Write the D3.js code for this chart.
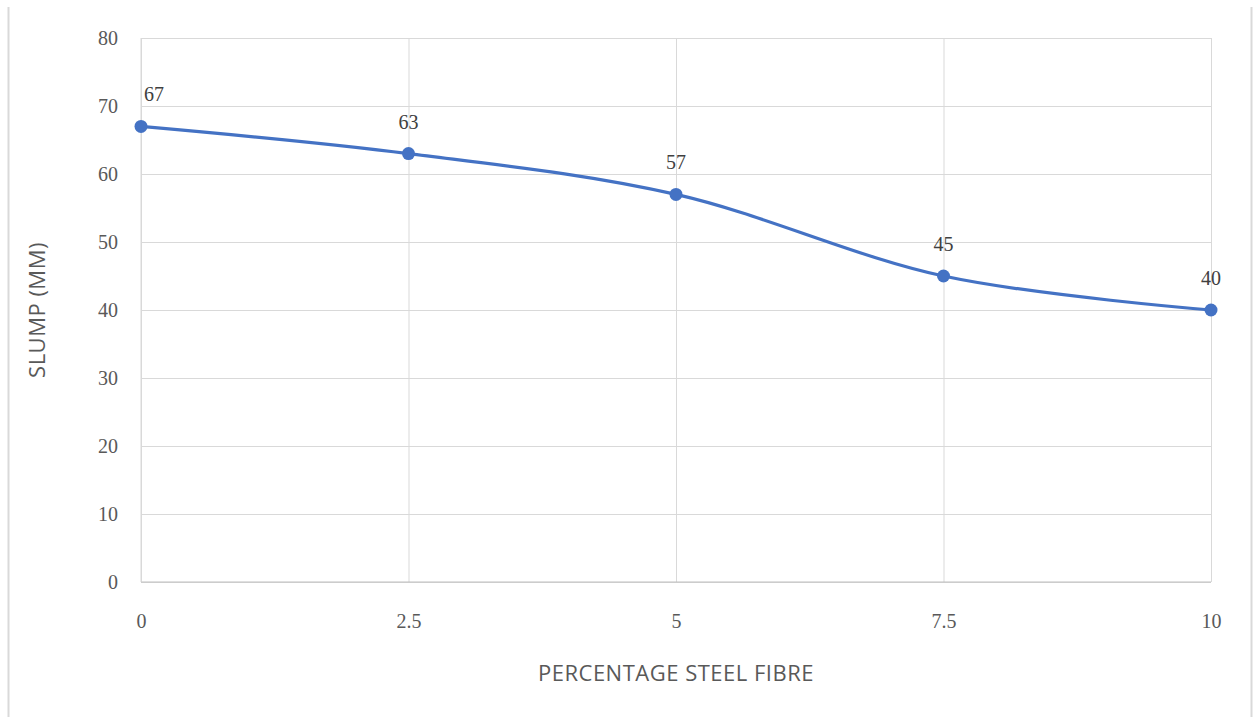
<!DOCTYPE html>
<html>
<head>
<meta charset="utf-8">
<script src="https://cdn.jsdelivr.net/npm/d3@7"></script>
<style>
  html, body { margin: 0; padding: 0; background: #fff; }
  svg { display: block; }
</style>
</head>
<body>
<script>
// Slump of concrete against steel fibre content
const fibrePercent = [0, 2.5, 5, 7.5, 10];
const slumpMM = [67, 63, 57, 45, 40];
const xTicks = [0, 2.5, 5, 7.5, 10];
const yTicks = [0, 10, 20, 30, 40, 50, 60, 70, 80];

const W = 1254, H = 717;
const plot = { left: 141, right: 1211, top: 38, bottom: 582 };

const svg = d3.select("body").append("svg")
  .attr("width", W).attr("height", H);

// outer frame edges
svg.append("line").attr("x1", 8.5).attr("x2", 8.5).attr("y1", 7).attr("y2", H)
  .attr("stroke", "#d9d9d9").attr("stroke-width", 2);
svg.append("line").attr("x1", 1251.5).attr("x2", 1251.5).attr("y1", 7).attr("y2", H)
  .attr("stroke", "#d9d9d9").attr("stroke-width", 2);

const x = d3.scaleLinear().domain([0, 10]).range([plot.left, plot.right]);
const y = d3.scaleLinear().domain([0, 80]).range([plot.bottom, plot.top]);

const numFont = "'Liberation Serif', 'DejaVu Serif', serif";
const sansFont = "'Open Sans', 'Noto Sans', sans-serif";

// horizontal gridlines + y tick labels
const yAxis = d3.axisLeft(y).tickValues(yTicks).tickSize(-(plot.right - plot.left)).tickPadding(23)
  .tickFormat(d3.format("d"));
const gy = svg.append("g").attr("transform", `translate(${plot.left},0)`).call(yAxis);
gy.select(".domain").remove();
gy.selectAll(".tick line").attr("stroke", "#d9d9d9").attr("stroke-width", 1);
gy.selectAll(".tick text").attr("fill", "#595959")
  .style("font-family", numFont).style("font-size", "20px");

// vertical gridlines + x tick labels
const xAxis = d3.axisBottom(x).tickValues(xTicks).tickSize(-(plot.bottom - plot.top)).tickPadding(32)
  .tickFormat(d => String(d));
const gx = svg.append("g").attr("transform", `translate(0,${plot.bottom})`).call(xAxis);
gx.select(".domain").remove();
gx.selectAll(".tick line").attr("stroke", "#d9d9d9").attr("stroke-width", 1);
gx.selectAll(".tick text").attr("fill", "#595959")
  .style("font-family", numFont).style("font-size", "20px");

// axis lines
svg.append("line").attr("x1", plot.left).attr("x2", plot.right)
  .attr("y1", y(0)).attr("y2", y(0)).attr("stroke", "#bfbfbf");
svg.append("line").attr("x1", x(0)).attr("x2", x(0))
  .attr("y1", y(0)).attr("y2", y(80)).attr("stroke", "#d9d9d9");

const points = fibrePercent.map((f, i) => ({ f, v: slumpMM[i] }));

// smoothed series line
const line = d3.line().x(d => x(d.f)).y(d => y(d.v)).curve(d3.curveCardinal.tension(0));
svg.append("path").datum(points)
  .attr("d", line).attr("fill", "none")
  .attr("stroke", "#4472c4").attr("stroke-width", 3.2);

// markers
svg.selectAll("circle.pt").data(points).enter().append("circle")
  .attr("class", "pt")
  .attr("cx", d => x(d.f)).attr("cy", d => y(d.v)).attr("r", 6.5)
  .attr("fill", "#4472c4");

// data labels
svg.selectAll("text.lbl").data(points).enter().append("text")
  .attr("class", "lbl")
  .attr("x", (d, i) => x(d.f) + (i === 0 ? 13 : 0))
  .attr("y", d => y(d.v) - 25)
  .attr("text-anchor", "middle")
  .attr("fill", "#404040")
  .style("font-family", numFont).style("font-size", "20px")
  .text(d => d.v);

// axis titles
svg.append("text")
  .attr("transform", `translate(45,${(plot.top + plot.bottom) / 2}) rotate(-90)`)
  .attr("text-anchor", "middle").attr("fill", "#595959")
  .style("font-family", sansFont).style("font-size", "22px")
  .style("letter-spacing", "0.5px")
  .text("SLUMP (MM)");

svg.append("text")
  .attr("x", (plot.left + plot.right) / 2).attr("y", 681)
  .attr("text-anchor", "middle").attr("fill", "#595959")
  .style("font-family", sansFont).style("font-size", "22px")
  .style("letter-spacing", "0.5px")
  .text("PERCENTAGE STEEL FIBRE");
</script>
</body>
</html>
